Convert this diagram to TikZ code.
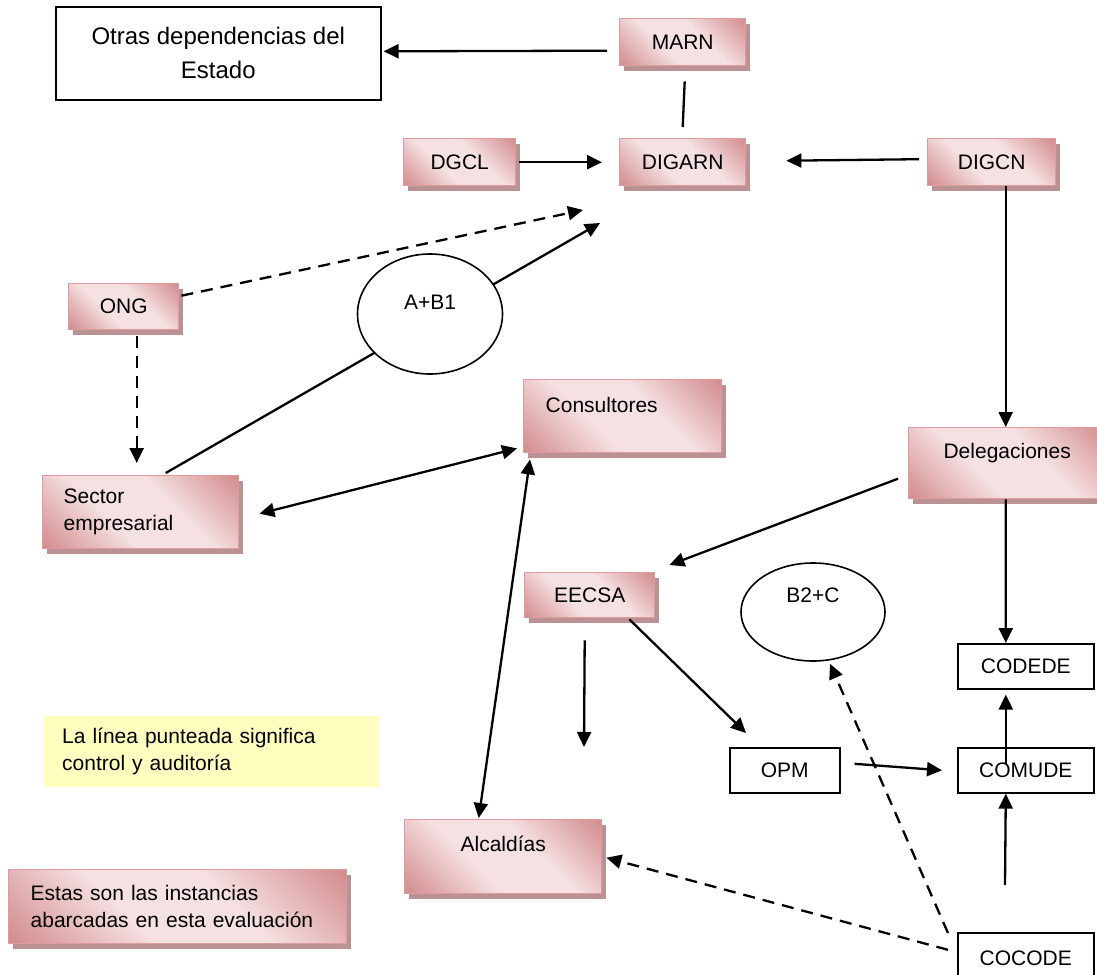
\documentclass[tikz,border=0pt]{standalone}
\usepackage{fontspec}
\setmainfont{Liberation Sans}
\usetikzlibrary{arrows.meta,shapes.geometric,shadows}

\definecolor{RosaOscuro}{RGB}{211,140,142}
\definecolor{RosaClaro}{RGB}{245,224,226}
\pgfdeclarehorizontalshading{rosado}{100bp}{color(0bp)=(RosaOscuro); color(15bp)=(RosaOscuro); color(40bp)=(RosaClaro); color(60bp)=(RosaClaro); color(85bp)=(RosaOscuro); color(100bp)=(RosaOscuro)}

\begin{document}
\begin{tikzpicture}[x=1pt, y=-1pt,
    font=\fontsize{21}{27}\selectfont,
    >={Triangle[length=15pt,width=14pt]},
    caja/.style={shading=rosado, shading angle=45, draw=RosaBorde,
        line width=1.4pt, inner sep=0pt, anchor=north west,
        drop shadow={shadow xshift=4pt, shadow yshift=-5pt, fill=RosaSombra, opacity=1}},
    blanca/.style={draw, fill=white, line width=1.6pt, inner sep=0pt, anchor=north west},
    flecha/.style={->, line width=2.3pt},
    punteada/.style={->, line width=2.3pt, dash pattern=on 12pt off 8pt},
    linea/.style={line width=2.3pt}]

\definecolor{RosaBorde}{RGB}{222,156,158}
\definecolor{RosaSombra}{RGB}{186,146,147}
\definecolor{NotaAmarilla}{RGB}{255,255,192}

\useasboundingbox (0,0) rectangle (1097,974);

% ── Otras dependencias del Estado ───────────────────────────
\node[blanca, minimum width=325pt, minimum height=93pt, align=center,
    font=\fontsize{24}{34}\selectfont] (otras) at (55,6) {Otras dependencias del\\Estado};

% ── Fila superior ───────────────────────────────────────────
\node[caja, minimum width=126pt, minimum height=47pt] (marn)   at (619,18)  {MARN};
\node[caja, minimum width=112pt, minimum height=47pt] (dgcl)   at (403,138) {DGCL};
\node[caja, minimum width=126pt, minimum height=47pt] (digarn) at (619,138) {DIGARN};
\node[caja, minimum width=128pt, minimum height=47pt] (digcn)  at (927,138) {DIGCN};

% ── Columna izquierda ───────────────────────────────────────
\node[caja, minimum width=110pt, minimum height=46pt] (ong) at (68,283) {ONG};
\node[caja, minimum width=196pt, minimum height=73pt, text width=154pt,
    inner xsep=21pt, align=left] (sector) at (42,475) {Sector\\empresarial};

% ── Centro ──────────────────────────────────────────────────
\node[caja, minimum width=198pt, text width=154pt, inner xsep=22pt, align=left,
    text height=33pt, text depth=40pt] (consultores) at (523,379) {Consultores};
\node[caja, minimum width=130pt, minimum height=45pt] (eecsa) at (524,572) {EECSA};
\node[caja, minimum width=197pt, text height=32pt, text depth=42pt] (alcaldias) at (404,819) {Alcaldías};
\node[draw, ellipse, line width=1.6pt, minimum width=144pt, minimum height=98pt,
    inner sep=0pt, text height=8pt, text depth=28pt] (b2c) at (813,612) {B2+C};
\node[blanca, minimum width=110pt, minimum height=45pt] (opm) at (729,747) {OPM};

% ── Columna derecha ─────────────────────────────────────────
\node[caja, minimum width=197pt, text height=31pt, text depth=40pt] (delegaciones) at (908,427) {Delegaciones};
\node[blanca, minimum width=136pt, minimum height=45pt] (codede) at (957,643) {CODEDE};
\node[blanca, minimum width=136pt, minimum height=45pt] (comude) at (957,747) {COMUDE};
\node[blanca, minimum width=136pt, minimum height=50pt] (cocode) at (957,932) {COCODE};

% ── Notas ───────────────────────────────────────────────────
\node[fill=NotaAmarilla, minimum width=335pt, minimum height=71pt, text width=299pt,
    inner xsep=18pt, inner ysep=0pt, align=left, anchor=north west] (nota) at (44,716)
    {La línea punteada significa\\control y auditoría};
\node[caja, minimum width=338pt, minimum height=74pt, text width=294pt,
    inner xsep=22pt, align=left] (leyenda) at (8,869)
    {Estas son las instancias\\abarcadas en esta evaluación};

% puntas sueltas
\coordinate (puntaOng)     at (583,210);
\coordinate (puntaSector)  at (600,223);
\coordinate (puntaEecsa)   at (584,747);
\coordinate (inicioCocode) at (1005,885);

% ── Conexiones ──────────────────────────────────────────────
\draw[flecha] ([xshift=-12pt,yshift=-8.5pt]marn.west) -- ([xshift=2pt,yshift=2pt]otras.east);
\draw[linea]  ([xshift=2pt,yshift=-15pt]marn.south) -- ([yshift=11pt]digarn.north);
\draw[flecha] ([xshift=3pt]dgcl.east) -- ([xshift=-17pt]digarn.west);
\draw[flecha] ([xshift=-8pt,yshift=3pt]digcn.west) -- ([xshift=40pt,yshift=1.5pt]digarn.east);
\draw[flecha] ([xshift=14pt]digcn.south) -- ([xshift=-1.5pt]delegaciones.north);

\draw[punteada] ([xshift=2pt,yshift=11pt]ong.east) -- (puntaOng);
\draw[punteada] ([xshift=13pt,yshift=-6pt]ong.south) -- ([xshift=-4pt,yshift=12pt]sector.north);
\draw[flecha] ([xshift=25pt,yshift=2pt]sector.north) -- (puntaSector);

\draw[<->, line width=2.3pt] ([xshift=20pt,yshift=-1.5pt]sector.east) -- ([xshift=-6pt,yshift=5pt]consultores.south west);
\draw[<->, line width=2.3pt] ([xshift=7pt,yshift=-6pt]consultores.south west) -- ([xshift=-24.5pt,yshift=1pt]alcaldias.north);

\draw[flecha] ([xshift=-10pt,yshift=-15.5pt]delegaciones.west) -- ([xshift=14pt,yshift=7pt]eecsa.north east);
\draw[flecha] ([xshift=-1.5pt]delegaciones.south) -- ([xshift=-20pt]codede.north);
\draw[flecha] ([xshift=-5pt,yshift=-22pt]eecsa.south) -- (puntaEecsa);
\draw[flecha] ([xshift=-26pt,yshift=-1pt]eecsa.south east) -- ([xshift=17pt,yshift=14pt]opm.north west);
\draw[flecha] ([xshift=14pt,yshift=6.5pt]opm.east) -- ([xshift=-15pt]comude.west);
\draw[flecha] ([xshift=-20pt,yshift=6.5pt]comude.center) -- ([xshift=-20pt,yshift=-5pt]codede.south);
\draw[flecha] (inicioCocode) -- ([xshift=-20pt]comude.south);

\draw[punteada] ([xshift=-9pt,yshift=-1pt]cocode.north west) -- ([xshift=17pt,yshift=-2pt]b2c.south);
\draw[punteada] ([xshift=-9pt,yshift=8pt]cocode.west) -- ([xshift=4pt,yshift=-1pt]alcaldias.east);

% ── Elipse A+B1 (tapa la línea del sector) ──────────────────
\node[draw, fill=white, ellipse, line width=1.6pt, minimum width=145pt, minimum height=120pt,
    inner sep=0pt, text height=10pt, text depth=20pt] (ab1) at (430,314) {A+B1};

\end{tikzpicture}
\end{document}
